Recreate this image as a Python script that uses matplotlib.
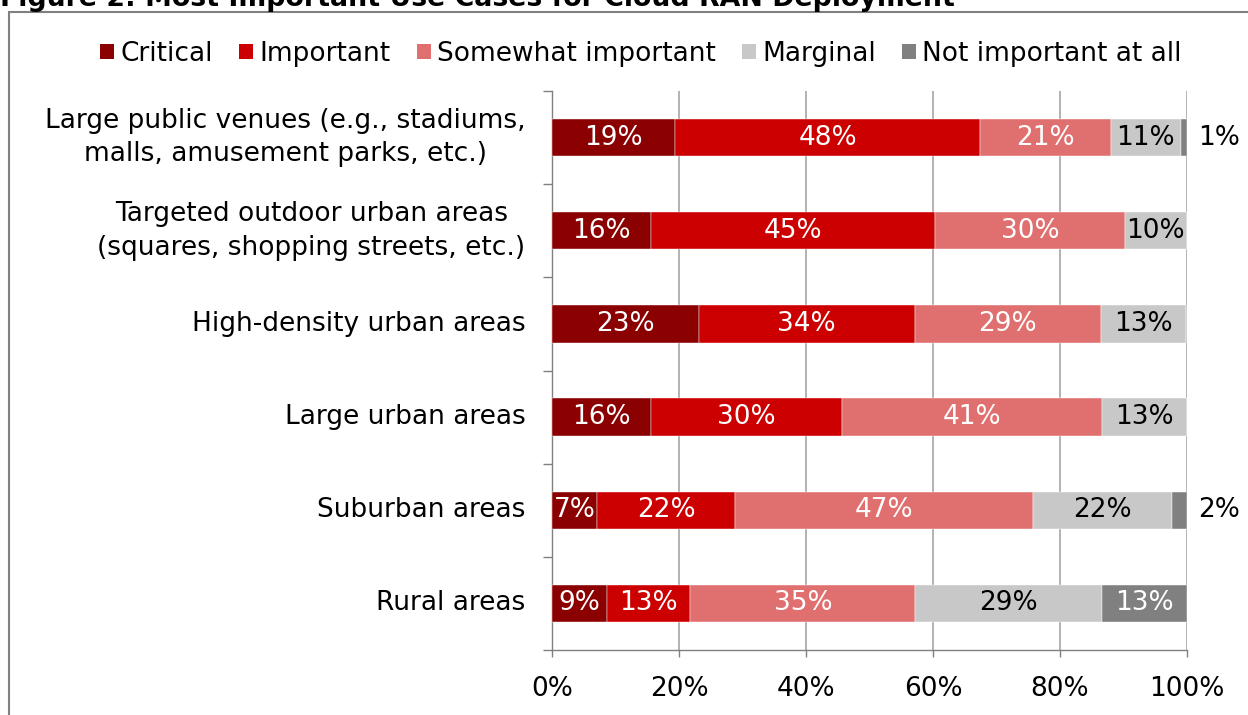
import matplotlib
matplotlib.use("Agg")
import matplotlib.pyplot as plt
from matplotlib.patches import Rectangle, Patch
import numpy as np

plt.rcParams['font.family'] = ['DejaVu Sans']

categories = [
    "Large public venues (e.g., stadiums,\nmalls, amusement parks, etc.)",
    "Targeted outdoor urban areas\n(squares, shopping streets, etc.)",
    "High-density urban areas",
    "Large urban areas",
    "Suburban areas",
    "Rural areas",
]
series_names = ["Critical", "Important", "Somewhat important", "Marginal", "Not important at all"]
critical = [19.4, 15.6, 23.1, 15.6, 7.1, 8.6]
important = [48.0, 44.7, 34.0, 30.1, 21.7, 13.2]
somewhat = [20.6, 29.9, 29.4, 40.9, 46.9, 35.4]
marginal = [11.0, 9.8, 13.4, 13.4, 21.9, 29.4]
not_important = [1.0, 0.0, 0.0, 0.0, 2.4, 13.4]
x_ticklabels = ["0%", "20%", "40%", "60%", "80%", "100%"]

colors = ["#8B0000", "#CC0000", "#E07070", "#C8C8C8", "#808080"]
text_colors = ["white", "white", "white", "black", "white"]

W, H = 1248, 715
fig = plt.figure(figsize=(W / 100, H / 100), dpi=100)
ax = fig.add_axes([552 / W, 1 - 650 / H, (1187 - 552) / W, (650 - 91) / H])

# border box
fig.patches.append(Rectangle((9 / W, -0.1), 1.2, 1 - 12 / H + 0.1, transform=fig.transFigure,
                             fill=False, edgecolor="#808080", linewidth=1.5, zorder=0))

# title (partially cut off at top)
fig.text(0.0, 1 - 6 / H, "Figure 2: Most Important Use Cases for Cloud RAN Deployment",
         fontsize=19.3, fontweight="bold", ha="left", va="baseline", color="black")

data = [critical, important, somewhat, marginal, not_important]
y = np.arange(len(categories))
left = np.zeros(len(categories))
fs = 19
for si, vals in enumerate(data):
    vals = np.array(vals)
    ax.barh(y, vals, left=left, height=0.4, color=colors[si], edgecolor="white",
            linewidth=0.3, zorder=3, label=series_names[si])
    for i, v in enumerate(vals):
        if v <= 0:
            continue
        lab = f"{int(round(v))}%"
        if si == 4 and v < 5:
            ax.text(101.7, y[i], lab, ha="left", va="center", fontsize=fs, color="black",
                    clip_on=False, zorder=4)
        else:
            ax.text(left[i] + v / 2, y[i], lab, ha="center", va="center", fontsize=fs,
                    color=text_colors[si], zorder=4)
    left = left + vals

ax.set_xlim(0, 100)
ax.set_ylim(len(categories) - 0.5, -0.5)
ax.set_xticks([0, 20, 40, 60, 80, 100])
ax.set_xticklabels(x_ticklabels, fontsize=fs)
ax.set_yticks(y)
ax.set_yticklabels(categories, fontsize=fs, multialignment="center", linespacing=1.38)
for lbl in ax.get_yticklabels():
    lbl.set_verticalalignment("center")
ax.set_yticks(np.arange(-0.5, len(categories)), minor=True)
ax.tick_params(axis="y", which="major", length=0, pad=19)
ax.tick_params(axis="y", which="minor", length=6.5, color="#808080", width=1)
ax.tick_params(axis="x", which="major", length=5, color="#808080", width=1, pad=14)
ax.xaxis.grid(True, color="#A6A6A6", linewidth=1.2, zorder=0)
ax.set_axisbelow(True)
for s in ["top", "right"]:
    ax.spines[s].set_visible(False)
for s in ["left", "bottom"]:
    ax.spines[s].set_color("#808080")
    ax.spines[s].set_linewidth(1)

handles = [Patch(facecolor=c, edgecolor="none") for c in colors]
fig.legend(handles, series_names, loc="center", bbox_to_anchor=(641 / W, 1 - 54 / H), ncol=5,
           frameon=False, fontsize=fs, handlelength=0.53, handleheight=0.53, handletextpad=0.23,
           columnspacing=1.0, borderpad=0, borderaxespad=0)

fig.savefig("out.png", dpi=100)
